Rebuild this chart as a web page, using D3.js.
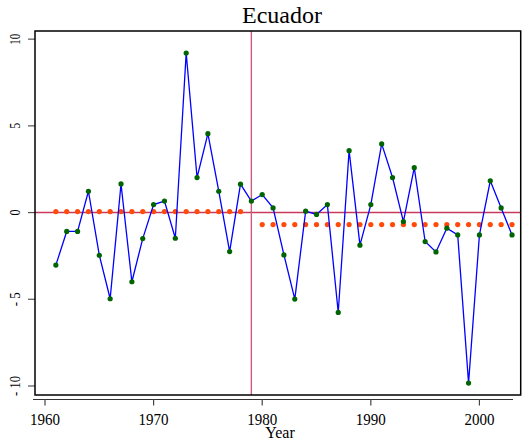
<!DOCTYPE html>
<html><head><meta charset="utf-8">
<script src="https://cdn.jsdelivr.net/npm/d3@7"></script>
<style>body{margin:0;background:#fff}svg{display:block}text{font-family:"Liberation Serif","Times New Roman",serif}</style>
</head><body><svg id="c" width="522" height="445"></svg>
<script>
const years = d3.range(1961, 2004);
const growth = [-3.03,-1.09,-1.09,1.23,-2.46,-4.97,1.65,-3.99,-1.50,0.46,
  0.66,-1.48,9.20,2.02,4.55,1.23,-2.25,1.64,0.66,1.04,
  0.27,-2.44,-4.99,0.08,-0.11,0.46,-5.76,3.57,-1.88,0.46,
  3.96,2.02,-0.52,2.59,-1.67,-2.27,-0.90,-1.29,-9.83,-1.29,
  1.83,0.27,-1.29];
const preYears = d3.range(1961, 1979);
const preMean = 0.06;
const postYears = d3.range(1980, 2004);
const postMean = -0.69;
const breakYear = 1979;
const xTicks = [1960,1970,1980,1990,2000];
const yTicks = [10,5,0,-5,-10];

const svg = d3.select("#c");
const L=35, R=520.7, T=31, B=395;
const x = d3.scaleLinear().domain([1959.08, 2003.8]).range([L, R]);
const y = d3.scaleLinear().domain([-10.52, 10.47]).range([B, T]);

// title
svg.append("text").attr("x",282).attr("y",23).attr("text-anchor","middle")
  .attr("font-size",24).text("Ecuador");

// x axis line & ticks
svg.append("line").attr("x1",33).attr("x2",513).attr("y1",399.5).attr("y2",399.5)
  .attr("stroke","#333").attr("stroke-width",1.2);
const xa = svg.append("g");
xTicks.forEach(t=>{
  xa.append("line").attr("x1",x(t)).attr("x2",x(t)).attr("y1",399).attr("y2",405.5)
    .attr("stroke","#444").attr("stroke-width",1.2);
  xa.append("text").attr("x",x(t)).attr("y",425).attr("text-anchor","middle")
    .attr("font-size",17).attr("textLength",30).attr("lengthAdjust","spacingAndGlyphs").text(t);
});
svg.append("text").attr("x",280).attr("y",438).attr("text-anchor","middle")
  .attr("font-size",16).text("Year");

// y ticks
const ya = svg.append("g");
yTicks.forEach(t=>{
  ya.append("line").attr("x1",28).attr("x2",L).attr("y1",y(t)).attr("y2",y(t))
    .attr("stroke","#555").attr("stroke-width",1.2);
  ya.append("text").attr("transform",`translate(20,${y(t)}) rotate(-90)`)
    .attr("text-anchor","middle").attr("font-size",14)
    .attr("textLength", t===-10?20:(t===-5?14:(String(t).length===2?11:6)))
    .attr("lengthAdjust","spacingAndGlyphs")
    .text(t<0?"- "+Math.abs(t):t);
});

// reference lines
svg.append("line").attr("x1",L).attr("x2",R).attr("y1",y(0)).attr("y2",y(0))
  .attr("stroke","#c83a5c").attr("stroke-width",1.4);
svg.append("line").attr("x1",x(breakYear)).attr("x2",x(breakYear)).attr("y1",T).attr("y2",B)
  .attr("stroke","#d05c7c").attr("stroke-width",1.4);

// mean dots
svg.append("g").selectAll("circle").data(preYears).join("circle")
  .attr("cx",d=>x(d)).attr("cy",y(preMean)).attr("r",2.6).attr("fill","#ff4a0a");
svg.append("g").selectAll("circle").data(postYears).join("circle")
  .attr("cx",d=>x(d)).attr("cy",y(postMean)).attr("r",2.6).attr("fill","#ff4a0a");

// series
const pts = years.map((yr,i)=>[yr,growth[i]]);
svg.append("path").datum(pts)
  .attr("d", d3.line().x(d=>x(d[0])).y(d=>y(d[1])))
  .attr("fill","none").attr("stroke","#0000ff").attr("stroke-width",1.3);
svg.append("g").selectAll("circle").data(pts).join("circle")
  .attr("cx",d=>x(d[0])).attr("cy",d=>y(d[1])).attr("r",2.6).attr("fill","#006400");

// frame
svg.append("rect").attr("x",L).attr("y",T).attr("width",R-L).attr("height",B-T)
  .attr("fill","none").attr("stroke","#000").attr("stroke-width",1.5);
</script></body></html>
